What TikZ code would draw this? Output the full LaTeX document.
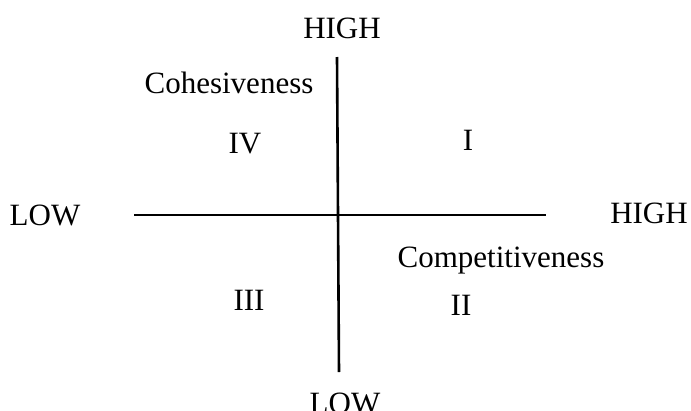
\documentclass[tikz,border=0pt]{standalone}
\usepackage{fontspec}
\setmainfont{Liberation Serif}
\begin{document}
\begin{tikzpicture}[x=1pt,y=-1pt,
  lbl/.style={anchor=base,inner sep=0pt,font=\fontsize{31}{36}\selectfont},
  axis/.style={line width=2.6pt}]
\useasboundingbox (0,0) rectangle (691,410);
\clip (0,0) rectangle (691,410);
\fill[white] (0,0) rectangle (691,410);
\coordinate (vtop) at (337,57);
\coordinate (vbot) at (339,372);
\coordinate (hl) at (134,215);
\coordinate (hr) at (546,215);
\draw[axis] (vtop) -- (vbot);
\draw[axis] (hl) -- (hr);
\node[lbl] (hightop) at (342,38) {HIGH};
\node[lbl] (coh) at (229,93) {Cohesiveness};
\node[lbl] (q4) at (245,153) {IV};
\node[lbl] (q1) at (468,150) {I};
\node[lbl] (lowleft) at (45,225) {LOW};
\node[lbl] (highright) at (649,223) {HIGH};
\node[lbl] (comp) at (501,267) {Competitiveness};
\node[lbl] (q3) at (249,310) {III};
\node[lbl] (q2) at (461,315) {II};
\node[lbl] (lowbot) at (345,413) {LOW};
\end{tikzpicture}
\end{document}
